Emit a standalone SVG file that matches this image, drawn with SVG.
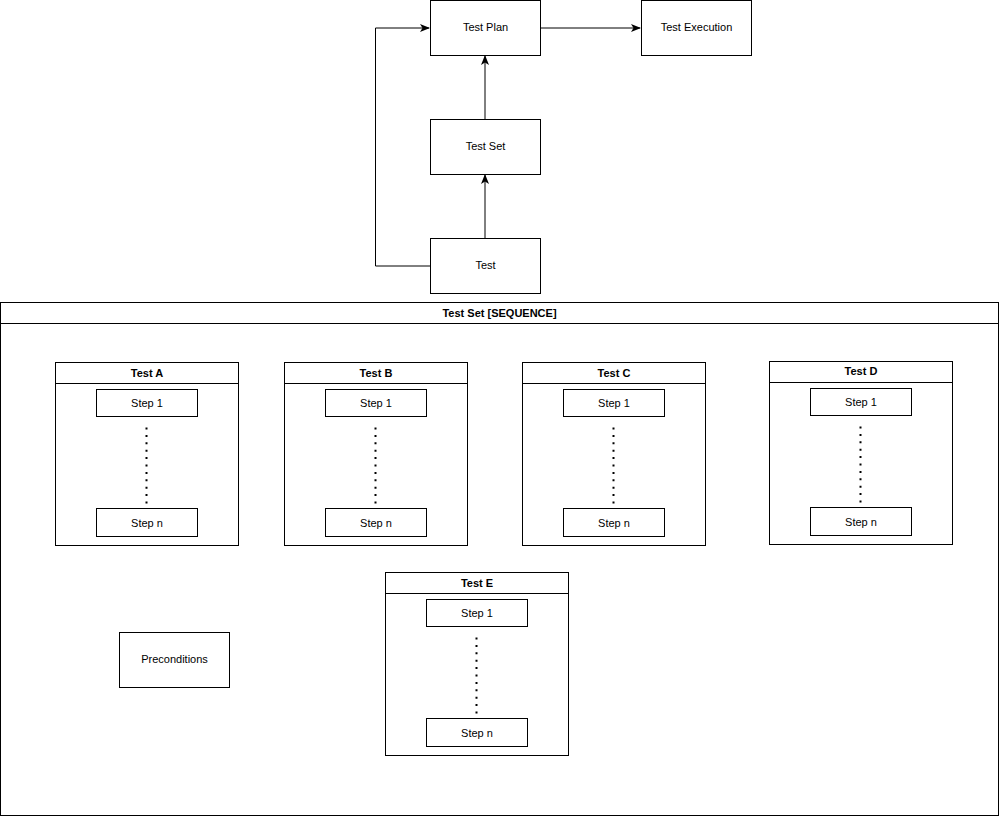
<svg xmlns="http://www.w3.org/2000/svg" width="999" height="816" viewBox="0 0 999 816">
<style>
.b{fill:#fff;stroke:#000;stroke-width:1}
.t{font-family:"Liberation Sans",Arial,sans-serif;font-size:11px;fill:#000;text-anchor:middle;dominant-baseline:central}
.h{font-weight:bold;font-size:11px}
.c{fill:none;stroke:#000;stroke-width:1}
.d{fill:none;stroke:#000;stroke-width:2;stroke-dasharray:2 5.4}
</style>
<defs>
<marker id="a" viewBox="0 0 10 10" refX="9" refY="5" markerWidth="10" markerHeight="10" markerUnits="userSpaceOnUse" orient="auto">
<path d="M0,1 L10,5 L0,9 L2.5,5 Z" fill="#000"/>
</marker>
<g id="test">
<rect class="b" x="0" y="0" width="183" height="183"/>
<line class="c" x1="0" y1="21" x2="183" y2="21"/>
<rect class="b" x="41" y="27" width="101" height="27"/>
<text class="t" x="91.5" y="40.5">Step 1</text>
<line class="d" x1="91" y1="65" x2="91" y2="141"/>
<rect class="b" x="41" y="146" width="101" height="28"/>
<text class="t" x="91.5" y="160">Step n</text>
</g>
</defs>
<rect width="999" height="816" fill="#fff"/>
<g id="connectors">
<line class="c" x1="540" y1="28" x2="640" y2="28" marker-end="url(#a)"/>
<line class="c" x1="485" y1="119" x2="485" y2="56" marker-end="url(#a)"/>
<line class="c" x1="485" y1="238" x2="485" y2="175" marker-end="url(#a)"/>
<polyline class="c" points="430,266 375.5,266 375.5,28 429,28" marker-end="url(#a)"/>
</g>
<g id="testplan"><rect class="b" x="430.5" y="0.5" width="110" height="55"/><text class="t" x="485.5" y="27">Test Plan</text></g>
<g id="testexecution"><rect class="b" x="641.5" y="0.5" width="110" height="55"/><text class="t" x="696.5" y="27">Test Execution</text></g>
<g id="testset"><rect class="b" x="430.5" y="119.5" width="110" height="55"/><text class="t" x="485.5" y="146">Test Set</text></g>
<g id="test-node"><rect class="b" x="430.5" y="238.5" width="110" height="55"/><text class="t" x="485.5" y="265">Test</text></g>
<g id="container">
<rect class="b" x="0.5" y="302.5" width="998" height="513"/>
<line class="c" x1="0.5" y1="323.5" x2="998.5" y2="323.5"/>
<text class="t h" x="499.5" y="313">Test Set [SEQUENCE]</text>
</g>
<g id="testA"><use href="#test" x="55.5" y="362.5"/><text class="t h" x="147" y="372.5">Test A</text></g>
<g id="testB"><use href="#test" x="284.5" y="362.5"/><text class="t h" x="376" y="372.5">Test B</text></g>
<g id="testC"><use href="#test" x="522.5" y="362.5"/><text class="t h" x="614" y="372.5">Test C</text></g>
<g id="testD"><use href="#test" x="769.5" y="361.5"/><text class="t h" x="861" y="371">Test D</text></g>
<g id="testE"><use href="#test" x="385.5" y="572.5"/><text class="t h" x="477" y="582.5">Test E</text></g>
<g id="preconditions"><rect class="b" x="119.5" y="632.5" width="110" height="55"/><text class="t" x="174.5" y="659">Preconditions</text></g>
</svg>
